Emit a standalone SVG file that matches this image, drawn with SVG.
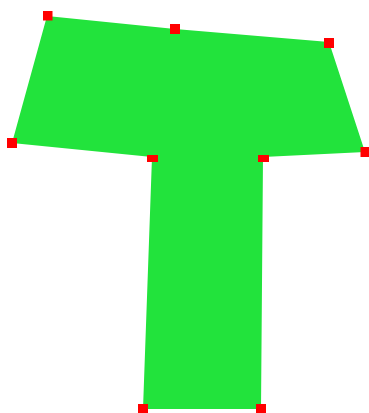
<svg xmlns="http://www.w3.org/2000/svg" width="369" height="413" viewBox="0 0 369 413">
<style>
.shape{fill:#22e33c;stroke:none}
.pt{fill:#ff0000}
</style>
<rect width="369" height="413" fill="#ffffff"/>
<g id="shape">
<polygon class="shape" points="47,16 175,29 329,42 365,152 263,157 261,409 143,409 152,157 12,143"/>
</g>
<g id="points">
<rect class="pt" x="43" y="11" width="9.5" height="9.5"/>
<rect class="pt" x="170" y="24" width="10" height="10"/>
<rect class="pt" x="324" y="38" width="10" height="10"/>
<rect class="pt" x="7" y="138" width="10" height="10"/>
<rect class="pt" x="360.5" y="147" width="10" height="10"/>
<rect class="pt" x="147" y="155" width="11" height="7"/>
<rect class="pt" x="258" y="155" width="11" height="7"/>
<rect class="pt" x="138" y="404" width="10" height="10"/>
<rect class="pt" x="256" y="404" width="10" height="10"/>
</g>
</svg>
